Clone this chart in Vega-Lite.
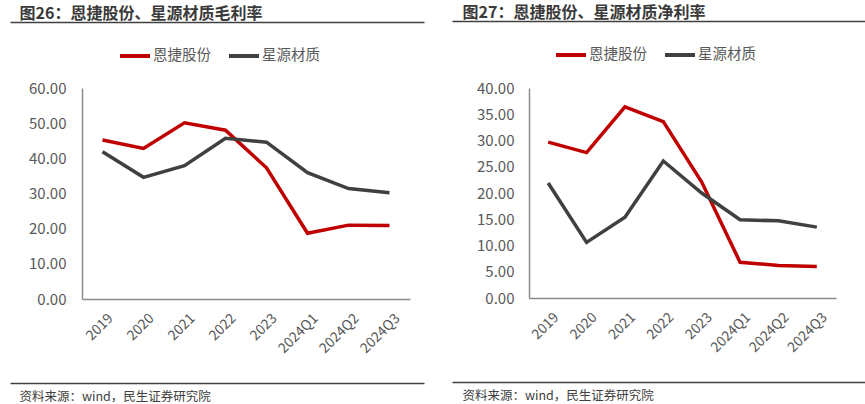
{
  "$schema": "https://vega.github.io/schema/vega-lite/v6.json",
  "padding": {"left": 7, "top": 4, "right": 0, "bottom": 0},
  "background": "white",
  "config": {
    "font": "Noto Sans CJK SC",
    "view": {"stroke": null},
    "axis": {"grid": false, "ticks": false, "title": null, "domainColor": "#8c8c8c", "domainWidth": 1.5, "labelColor": "#595959", "labelFontSize": 14, "labelFont": "Noto Sans CJK SC"},
    "legend": {"labelFontSize": 14.5, "labelColor": "#595959", "symbolType": "stroke", "symbolSize": 900, "symbolStrokeWidth": 4, "labelOffset": 1, "columnPadding": 10, "title": null, "direction": "horizontal", "orient": "none"}
  },
  "datasets": {
    "gross": [
      {"period": "2019", "company": "恩捷股份", "value": 45.2},
      {"period": "2020", "company": "恩捷股份", "value": 42.8},
      {"period": "2021", "company": "恩捷股份", "value": 50.1},
      {"period": "2022", "company": "恩捷股份", "value": 48.0},
      {"period": "2023", "company": "恩捷股份", "value": 37.3},
      {"period": "2024Q1", "company": "恩捷股份", "value": 18.7},
      {"period": "2024Q2", "company": "恩捷股份", "value": 21.0},
      {"period": "2024Q3", "company": "恩捷股份", "value": 20.9},
      {"period": "2019", "company": "星源材质", "value": 41.9},
      {"period": "2020", "company": "星源材质", "value": 34.6},
      {"period": "2021", "company": "星源材质", "value": 37.9},
      {"period": "2022", "company": "星源材质", "value": 45.7},
      {"period": "2023", "company": "星源材质", "value": 44.6},
      {"period": "2024Q1", "company": "星源材质", "value": 35.9},
      {"period": "2024Q2", "company": "星源材质", "value": 31.4},
      {"period": "2024Q3", "company": "星源材质", "value": 30.2}
    ],
    "net": [
      {"period": "2019", "company": "恩捷股份", "value": 29.7},
      {"period": "2020", "company": "恩捷股份", "value": 27.7},
      {"period": "2021", "company": "恩捷股份", "value": 36.4},
      {"period": "2022", "company": "恩捷股份", "value": 33.6},
      {"period": "2023", "company": "恩捷股份", "value": 22.1},
      {"period": "2024Q1", "company": "恩捷股份", "value": 6.8},
      {"period": "2024Q2", "company": "恩捷股份", "value": 6.2},
      {"period": "2024Q3", "company": "恩捷股份", "value": 6.0},
      {"period": "2019", "company": "星源材质", "value": 21.9},
      {"period": "2020", "company": "星源材质", "value": 10.6},
      {"period": "2021", "company": "星源材质", "value": 15.4},
      {"period": "2022", "company": "星源材质", "value": 26.1},
      {"period": "2023", "company": "星源材质", "value": 20.0},
      {"period": "2024Q1", "company": "星源材质", "value": 14.9},
      {"period": "2024Q2", "company": "星源材质", "value": 14.7},
      {"period": "2024Q3", "company": "星源材质", "value": 13.5}
    ],
    "frame": [{"d": 0}, {"d": 1}]
  },
  "spacing": 22,
  "resolve": {"legend": {"color": "independent"}, "scale": {"color": "independent"}},
  "hconcat": [
    {
      "width": 414, "height": 211,
      "resolve": {"scale": {"x": "independent"}, "axis": {"x": "independent", "y": "independent"}},
      "layer": [
        {
          "data": {"name": "gross"},
          "mark": {"type": "line", "strokeWidth": 3.5},
          "encoding": {
            "x": {"field": "period", "type": "nominal", "sort": ["2019","2020","2021","2022","2023","2024Q1","2024Q2","2024Q3"], "scale": {"type": "point", "range": [72, 400], "padding": 0.5}, "axis": {"orient": "bottom", "labelAngle": -45, "labelPadding": 12, "labelOffset": 3}},
            "y": {"field": "value", "type": "quantitative", "scale": {"domain": [0, 60]}, "axis": {"orient": "left", "values": [0,10,20,30,40,50,60], "labelOverlap": false, "format": ".2f", "offset": -72, "labelPadding": 16, "labelFontSize": 15}},
            "color": {"field": "company", "type": "nominal", "scale": {"domain": ["恩捷股份", "星源材质"], "range": ["#c00000", "#404040"]}, "legend": {"legendX": 108, "legendY": -49}}
          }
        },
        {
          "data": {"name": "frame"},
          "mark": {"type": "point", "opacity": 0},
          "encoding": {
            "y": {"field": "d", "type": "quantitative", "axis": null},
            "x": {"field": "d", "type": "quantitative", "scale": {"domain": [0, 1], "nice": false}, "axis": {"orient": "top", "offset": 66, "labels": false, "domainColor": "#404040", "domainWidth": 1.5, "title": "图26：恩捷股份、星源材质毛利率", "titleX": 9, "titleY": -4, "titleAlign": "left", "titleAnchor": "start", "titleBaseline": "alphabetic", "titleFontSize": 16, "titleFontWeight": "bold", "titleColor": "#3a3a3a", "titleFont": "Noto Sans CJK SC"}}
          }
        },
        {
          "data": {"name": "frame"},
          "mark": {"type": "point", "opacity": 0},
          "encoding": {
            "y": {"field": "d", "type": "quantitative", "axis": null},
            "x": {"field": "d", "type": "quantitative", "scale": {"domain": [0, 1], "nice": false}, "axis": {"orient": "bottom", "offset": 84, "labels": false, "domainColor": "#404040", "domainWidth": 1.5, "title": "资料来源：wind，民生证券研究院", "titleX": 9, "titleY": 7, "titleAlign": "left", "titleAnchor": "start", "titleBaseline": "top", "titleFontSize": 12.5, "titleFontWeight": "normal", "titleColor": "#404040", "titleFont": "Noto Sans CJK SC"}}
          }
        }
      ]
    },
    {
      "width": 414, "height": 210,
      "resolve": {"scale": {"x": "independent"}, "axis": {"x": "independent", "y": "independent"}},
      "layer": [
        {
          "data": {"name": "net"},
          "mark": {"type": "line", "strokeWidth": 3.5},
          "encoding": {
            "x": {"field": "period", "type": "nominal", "sort": ["2019","2020","2021","2022","2023","2024Q1","2024Q2","2024Q3"], "scale": {"type": "point", "range": [77, 384], "padding": 0.5}, "axis": {"orient": "bottom", "labelAngle": -45, "labelPadding": 12, "labelOffset": 3}},
            "y": {"field": "value", "type": "quantitative", "scale": {"domain": [0, 40]}, "axis": {"orient": "left", "values": [0,5,10,15,20,25,30,35,40], "labelOverlap": false, "format": ".2f", "offset": -77, "labelPadding": 15, "labelFontSize": 15}},
            "color": {"field": "company", "type": "nominal", "scale": {"domain": ["恩捷股份", "星源材质"], "range": ["#c00000", "#404040"]}, "legend": {"legendX": 102, "legendY": -50}}
          }
        },
        {
          "data": {"name": "frame"},
          "mark": {"type": "point", "opacity": 0},
          "encoding": {
            "y": {"field": "d", "type": "quantitative", "axis": null},
            "x": {"field": "d", "type": "quantitative", "scale": {"domain": [0, 1], "nice": false}, "axis": {"orient": "top", "offset": 67, "labels": false, "domainColor": "#404040", "domainWidth": 1.5, "title": "图27：恩捷股份、星源材质净利率", "titleX": 10, "titleY": -4, "titleAlign": "left", "titleAnchor": "start", "titleBaseline": "alphabetic", "titleFontSize": 16, "titleFontWeight": "bold", "titleColor": "#3a3a3a", "titleFont": "Noto Sans CJK SC"}}
          }
        },
        {
          "data": {"name": "frame"},
          "mark": {"type": "point", "opacity": 0},
          "encoding": {
            "y": {"field": "d", "type": "quantitative", "axis": null},
            "x": {"field": "d", "type": "quantitative", "scale": {"domain": [0, 1], "nice": false}, "axis": {"orient": "bottom", "offset": 84, "labels": false, "domainColor": "#404040", "domainWidth": 1.5, "title": "资料来源：wind，民生证券研究院", "titleX": 10, "titleY": 7, "titleAlign": "left", "titleAnchor": "start", "titleBaseline": "top", "titleFontSize": 12.5, "titleFontWeight": "normal", "titleColor": "#404040", "titleFont": "Noto Sans CJK SC"}}
          }
        }
      ]
    }
  ]
}
